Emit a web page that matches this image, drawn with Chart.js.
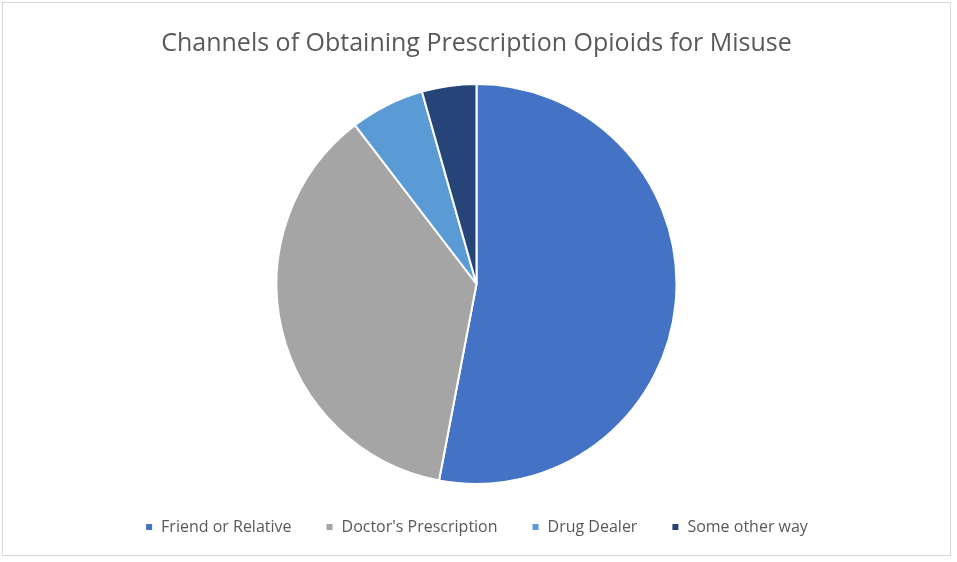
<!DOCTYPE html>
<html>
<head>
<meta charset="utf-8">
<script src="https://cdn.jsdelivr.net/npm/chart.js@4"></script>
<style>
  html, body { margin: 0; padding: 0; background: #fff; }
  #wrap { position: absolute; left: 2px; top: 2px; width: 949px; height: 554px; border: 1px solid #d9d9d9; box-sizing: border-box; }
</style>
</head>
<body>
<div id="wrap"><canvas id="pieChart"></canvas></div>
<script>
const categories = ["Friend or Relative", "Doctor's Prescription", "Drug Dealer", "Some other way"];
const shares = [53.0, 36.6, 6.0, 4.4];
const colors = ["#4472c4", "#a5a5a5", "#5b9bd5", "#264478"];

new Chart(document.getElementById("pieChart"), {
    type: "pie",
    data: {
        labels: categories,
        datasets: [{
            data: shares,
            backgroundColor: colors,
            borderColor: "#ffffff",
            borderWidth: 2
        }]
    },
    options: {
        responsive: true,
        maintainAspectRatio: false,
        animation: false,
        layout: { padding: { top: 8, bottom: 10 } },
        plugins: {
            title: {
                display: true,
                text: "Channels of Obtaining Prescription Opioids for Misuse",
                color: "#595959",
                font: { family: "Open Sans", size: 25, weight: "normal" },
                padding: { top: 18, bottom: 24 }
            },
            legend: {
                position: "bottom",
                labels: {
                    color: "#595959",
                    font: { family: "Open Sans", size: 16 },
                    boxWidth: 8,
                    boxHeight: 8,
                    padding: 34
                }
            },
            tooltip: { enabled: false }
        }
    }
});
</script>
</body>
</html>
